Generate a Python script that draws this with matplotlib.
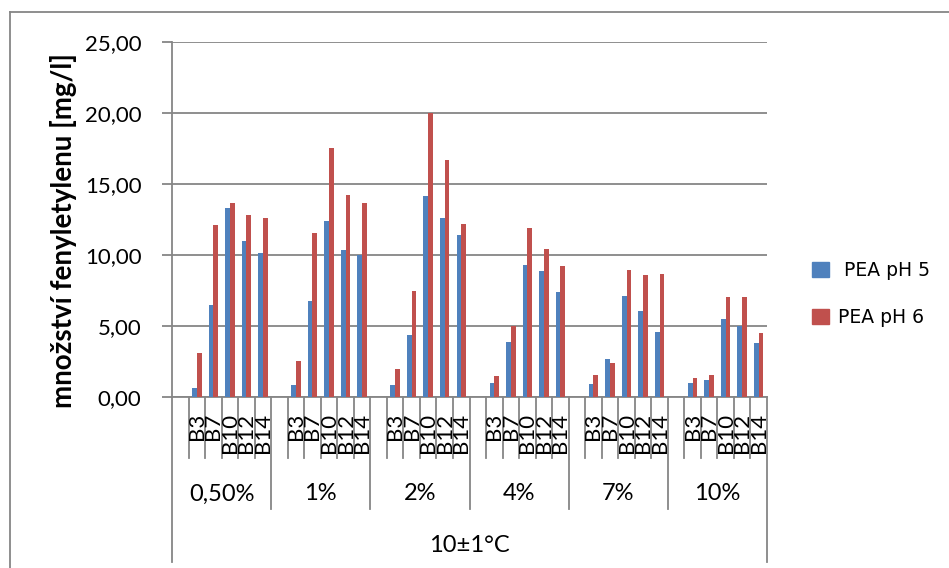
import numpy as np
import matplotlib
matplotlib.use("Agg")
import matplotlib.pyplot as plt
from matplotlib.lines import Line2D
from matplotlib.patches import Patch
from matplotlib.ticker import FuncFormatter, MultipleLocator

# data
groups = ["0,50%", "1%", "2%", "4%", "7%", "10%"]
strains = ["B3", "B7", "B10", "B12", "B14"]
outer_label = "10±1°C"
series_names = [" PEA pH 5", "PEA pH 6"]
ph5 = [
    0.66, 6.50, 13.31, 11.02, 10.17,
    0.85, 6.78, 12.39, 10.35, 10.00,
    0.85, 4.35, 14.16, 12.58, 11.42,
    0.97, 3.88, 9.29, 8.89, 7.40,
    0.92, 2.65, 7.14, 6.08, 4.56,
    1.02, 1.21, 5.51, 4.99, 3.78,
]
ph6 = [
    3.07, 12.08, 13.64, 12.84, 12.62,
    2.55, 11.58, 17.52, 14.26, 13.64,
    2.00, 7.45, 20.02, 16.71, 12.15,
    1.47, 4.99, 11.87, 10.43, 9.24,
    1.58, 2.36, 8.94, 8.58, 8.65,
    1.37, 1.58, 7.04, 7.04, 4.49,
]

BLUE = "#4F81BD"
RED = "#C0504D"
GRAY = "#868686"
FONT = "Lato"

W, H = 949, 568
fig = plt.figure(figsize=(W / 100, H / 100), dpi=100)
ax = fig.add_axes([172 / W, 1 - 397 / H, (767 - 172) / W, (397 - 42) / H])

# each group has an empty leading slot, then the five strains
n_sub = len(strains) + 1
slots = np.array([g * n_sub + 1 + k for g in range(len(groups)) for k in range(len(strains))])
centers = slots + 0.5
bw = 1 / 3.5

ax.bar(centers - bw / 2, ph5, width=bw, color=BLUE, label=series_names[0], zorder=3)
ax.bar(centers + bw / 2, ph6, width=bw, color=RED, label=series_names[1], zorder=3)

n_slots = len(groups) * n_sub
ax.set_xlim(0, n_slots)
ax.set_ylim(0, 25)
ax.yaxis.set_major_locator(MultipleLocator(5))
ax.yaxis.set_major_formatter(FuncFormatter(lambda v, _: f"{v:.2f}".replace(".", ",")))
ax.grid(axis="y", color=GRAY, linewidth=1.3, zorder=0)
ax.set_xticks([])
ax.tick_params(axis="y", length=7, width=1.3, color=GRAY, pad=15, labelsize=16)
for lab in ax.get_yticklabels():
    lab.set_fontfamily(FONT)
for side in ["top", "right"]:
    ax.spines[side].set_visible(False)
for side in ["left", "bottom"]:
    ax.spines[side].set_color(GRAY)
    ax.spines[side].set_linewidth(1.3)

# category axis: separator lines below the plot
tr = ax.get_xaxis_transform()
sub_bottom, group_bottom, outer_bottom = -0.172, -0.316, -0.465
for g in range(len(groups)):
    for k in range(1, n_sub):
        x = g * n_sub + k
        ax.plot([x, x], [0, sub_bottom], transform=tr, color=GRAY, lw=1.3, clip_on=False)
for g in range(1, len(groups)):
    x = g * n_sub
    ax.plot([x, x], [0, group_bottom], transform=tr, color=GRAY, lw=1.3, clip_on=False)
for x in [0, n_slots]:
    ax.plot([x, x], [0, outer_bottom], transform=tr, color=GRAY, lw=1.3, clip_on=False)

for c, s in zip(centers, strains * len(groups)):
    ax.text(c, -0.045, s, transform=tr, rotation=90, ha="center", va="top",
            fontsize=16, family=FONT)
for g, name in enumerate(groups):
    ax.text(g * n_sub + n_sub / 2, -0.273, name, transform=tr, ha="center", va="center",
            fontsize=17, family=FONT)
ax.text(n_slots / 2, -0.417, outer_label, transform=tr, ha="center", va="center",
        fontsize=17, family=FONT)

fig.text(64 / W, 1 - 231 / H, "množství fenyletylenu [mg/l]", rotation=90,
         ha="center", va="center", fontsize=20, fontweight="bold", family=FONT)

handles = [Patch(color=BLUE, label=series_names[0]), Patch(color=RED, label=series_names[1])]
fig.legend(handles=handles, loc="center left", bbox_to_anchor=(812 / W, 1 - 294 / H),
           frameon=False, borderpad=0, borderaxespad=0,
           handlelength=0.9, handleheight=0.9, handletextpad=0.5,
           labelspacing=1.5, prop={"family": "DejaVu Sans", "size": 13.5})

# chart area border (only top and left edges are visible)
fig.add_artist(Line2D([10 / W, 1], [1 - 12 / H, 1 - 12 / H], color=GRAY, lw=1.3))
fig.add_artist(Line2D([10 / W, 10 / W], [0, 1 - 12 / H], color=GRAY, lw=1.3))

fig.savefig("out.png", dpi=100)
